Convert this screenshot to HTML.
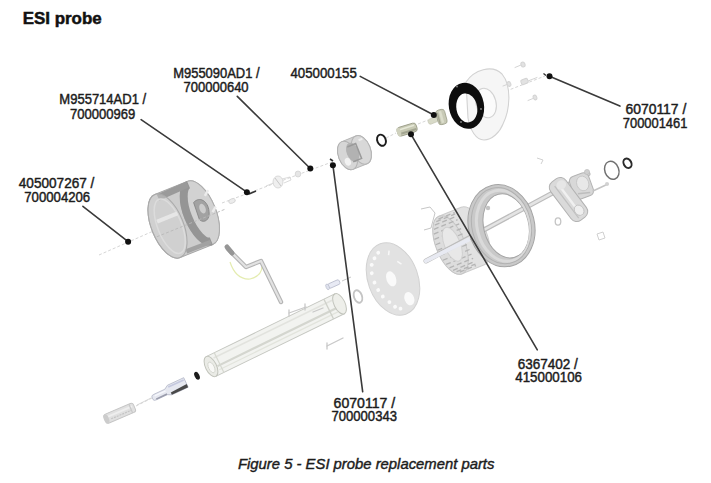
<!DOCTYPE html>
<html><head><meta charset="utf-8">
<style>
html,body{margin:0;padding:0;background:#fff;width:711px;height:483px;overflow:hidden}
svg{display:block;position:absolute;left:0;top:0}
text{font-family:"Liberation Sans",sans-serif;fill:#1c1c1c}
.l{font-size:14px;stroke:#1c1c1c;stroke-width:0.45px}
</style></head><body>
<svg width="711" height="483" viewBox="0 0 711 483">
<defs><filter id="soft" x="-5%" y="-5%" width="110%" height="110%"><feGaussianBlur stdDeviation="0.3"/></filter></defs>
<g id="parts" filter="url(#soft)">
<!-- dashed axes -->
<g stroke="#d0d0d0" stroke-width="0.9" stroke-dasharray="3 2" fill="none">
  <path d="M99,255 L167,225"/>
  <path d="M222,203 L332,162"/>
  <path d="M386,138 L396,133"/>
  <path d="M418,124 L428,120"/>
  <path d="M478,102 L545,76"/>
  <path d="M136,406 L152,398"/>
</g>
<!-- A housing -->
<g transform="translate(167.5,226) rotate(-22)">
  <path d="M0,-34 L35,-34 A16,34 0 0 1 35,34 L0,34 A16,34 0 0 1 0,-34 Z" fill="#cdcdcd" stroke="#a8a8a8" stroke-width="1"/>
  <ellipse cx="35" cy="0" rx="16" ry="34" fill="#d2d2d2" stroke="#adadad"/>
  <path d="M35,-30.5 A12.5,30.5 0 0 0 35,30.5" fill="none" stroke="#959595" stroke-width="8"/>
  <path d="M2,-30 L34,-31" fill="none" stroke="#9a9a9a" stroke-width="6.5"/>
  <path d="M8,30.5 L34,31" fill="none" stroke="#a2a2a2" stroke-width="4.5"/>
  <path d="M33,-12 C41,-16 47,-8 44,2 C42,10 35,12 32,6 Z" fill="#a2a2a2" stroke="#858585" stroke-width="0.8"/>
  <ellipse cx="39" cy="-3" rx="3" ry="5" fill="#cccccc"/>
  <path d="M46,-14 L51,-18 M47,4 L52,0" stroke="#ececec" stroke-width="2.5"/>
  <ellipse cx="0" cy="0" rx="16" ry="34" fill="#d4d4d4" fill-opacity="0.4" stroke="#aaaaaa"/>
  <ellipse cx="2" cy="1" rx="12" ry="29" fill="none" stroke="#dcdcdc" stroke-width="1.5"/>
  <path d="M-8,-8 L14,-8" stroke="#e6e6e6" stroke-width="4"/>
  <path d="M-14,6 L60,6" stroke="#b8b8b8" stroke-width="0.8" stroke-dasharray="3 2"/>
</g>
<!-- small faint parts upper axis -->
<g fill="#ececec" stroke="#d2d2d2" stroke-width="0.8">
  <ellipse cx="232" cy="201" rx="3.5" ry="2.2" transform="rotate(-22 232 201)"/>
  <path d="M266,186 L276,182 M282,179 L290,177 L291,180 L284,183" fill="none"/>
  <ellipse cx="278" cy="182" rx="5" ry="6" fill="#efefef"/>
  <path d="M275,178 L281,186" stroke="#c8c8c8" stroke-width="1"/>
  <ellipse cx="298" cy="174" rx="2.8" ry="3" fill="#e6e6e6"/>
</g>
<path d="M249,194 L256,191" stroke="#333" stroke-width="1.6"/>
<path d="M330,159 L333,161" stroke="#333" stroke-width="1.6"/>
<!-- E cylinder part -->
<g transform="translate(347.5,155.5) rotate(-22)">
  <path d="M0,-15 L15,-15 A9,15 0 0 1 15,15 L0,15 A9,15 0 0 1 0,-15 Z" fill="#d2d2d2" stroke="#b6b6b6"/>
  <ellipse cx="15" cy="0" rx="9" ry="15" fill="#d8d8d8" stroke="#b4b4b4"/>
  <ellipse cx="0" cy="0" rx="9" ry="15" fill="#d6d6d6" stroke="#b2b2b2"/>
  <ellipse cx="6" cy="-1" rx="6" ry="10" fill="#b2b2b2"/>
  <path d="M3,-8 L12,-8 L12,8 L3,8" fill="none" stroke="#9a9a9a" stroke-width="1.5"/>
  <ellipse cx="-2" cy="6" rx="3" ry="4" fill="#f2f2f2"/>
  <path d="M16,-10 L20,-10" stroke="#eeeeee" stroke-width="2"/>
</g>
<!-- F o-ring -->
<ellipse cx="381.5" cy="140.2" rx="4.2" ry="5.8" transform="rotate(-22 381.5 140.2)" fill="none" stroke="#1e1e1e" stroke-width="1.9"/>
<!-- G fitting -->
<g transform="translate(397.5,132.5) rotate(-17)">
  <rect x="0" y="-4.5" width="20" height="9" rx="3" fill="#c8cab4" stroke="#9ea08c" stroke-width="0.9"/>
  <path d="M2,2.2 L19,2.2" stroke="#a2a490" stroke-width="2.2"/>
  <path d="M3,-2 L18,-2" stroke="#e6e8d8" stroke-width="1.5"/>
  <ellipse cx="1.5" cy="0" rx="2" ry="4.5" fill="#cfd1bd"/>
</g>
<!-- H nut -->
<g transform="translate(433,120.5) rotate(-22)">
  <rect x="-5" y="-2.6" width="10" height="5.2" rx="2" fill="#d8dac8" stroke="#c0c2ae" stroke-width="0.6"/>
</g>
<g transform="translate(441.5,117) rotate(-15)">
  <rect x="-4.5" y="-7.5" width="9" height="15" rx="3" fill="#c8cab6" stroke="#a0a28e" stroke-width="0.8"/>
  <path d="M0,-6 L0,6" stroke="#dcdecc" stroke-width="2.5"/>
  <path d="M-3,-5 L-3,6" stroke="#a4a692" stroke-width="1.4"/>
</g>
<!-- J plate (whitish) -->
<g fill="#f6f6f6" stroke="#d2d2d2" stroke-width="1.1">
  <path d="M466,82 C474,70 492,64 502,74 C512,86 510,110 503,124 C500,132 492,140 484,140 C476,140 470,130 468,118 Z"/>
  <ellipse cx="486" cy="103" rx="10" ry="15" transform="rotate(-15 486 103)" fill="#fbfbfb"/>
</g>
<!-- I gasket -->
<path transform="rotate(-10 466.4 105.8)" fill-rule="evenodd" fill="#111" d="M448.8,105.8 A17.6,23.2 0 1 0 484,105.8 A17.6,23.2 0 1 0 448.8,105.8 Z M456,108 A10.4,14.6 0 1 1 476.8,108 A10.4,14.6 0 1 1 456,108 Z"/>
<g fill="#888"><circle cx="457" cy="86.5" r="0.9"/><circle cx="481" cy="109" r="0.9"/><circle cx="461" cy="122" r="0.9"/></g>
<!-- K screws -->
<g stroke="#d4d4d4" stroke-width="1" stroke-linecap="round" fill="#e2e2e2">
  <path d="M515,67.5 L521,65"/><ellipse cx="523" cy="64.5" rx="2" ry="2.6" transform="rotate(-22 523 64.5)"/>
  <path d="M528,81 L537,77.5"/><rect x="521" y="79" width="7" height="5" rx="1.5" transform="rotate(-22 524.5 81.5)"/>
  <path d="M503,86 L507,84.5"/><ellipse cx="509" cy="84" rx="1.8" ry="2.4" transform="rotate(-22 509 84)"/>
  <path d="M528,100.5 L533,98.5"/><ellipse cx="535" cy="97.5" rx="1.8" ry="2.4" transform="rotate(-22 535 97.5)"/>
</g>
<path d="M543.5,73.5 L546,75.5" stroke="#333" stroke-width="1.5"/>

<!-- L cap -->
<g transform="translate(105,419.5) rotate(-23)">
  <rect x="0" y="-4.8" width="32" height="9.6" rx="2.5" fill="#e0e0e0" stroke="#c6c6c6"/>
  <path d="M4,-1.5 L30,-1.5" stroke="#eeeeee" stroke-width="2"/>
  <path d="M6,1.8 L28,1.8" stroke="#c4c4c4" stroke-width="1.2" stroke-dasharray="2 1"/>
  <ellipse cx="1.5" cy="0" rx="2.5" ry="4.8" fill="#cccccc"/>
  <path d="M28,-4.8 L28,4.8" stroke="#c8c8c8" stroke-width="1.2"/>
</g>
<path d="M137,405 L151,398" stroke="#cfcfcf" stroke-width="0.8"/>
<!-- M nozzle -->
<g transform="translate(152.5,398.3) rotate(-25)">
  <path d="M0,-1.5 Q0,-3 3,-3 L15,-3 L19,-5.5 L37,-5.5 L37,5 L19,5 L15,3 L3,3 Q0,3 0,1.5 Z" fill="#e6e8f0" stroke="#b0b4c4" stroke-width="0.7"/>
  <path d="M19,2.5 L37,1.5 L37,5 L19,5 Z" fill="#4a4a4a"/>
  <path d="M3,1.5 L15,1.5 L15,3 L3,3 Z" fill="#9a9cac"/>
  <path d="M19,-3.5 L36,-3.5" stroke="#c4c8de" stroke-width="1.6"/>
  <path d="M3,-1.2 L15,-1.2" stroke="#f6f7fc" stroke-width="1.4"/>
</g>
<!-- N small o-ring -->
<ellipse cx="197" cy="375.7" rx="2.4" ry="4.2" transform="rotate(-25 197 375.7)" fill="#1a1a1a"/>
<!-- O long tube -->
<g transform="translate(211,366.5) rotate(-26)">
  <path d="M0,-11 L143,-11 L143,11 L0,11 Z" fill="#f2f3f0" stroke="#c6c8c2" stroke-width="1"/>
  <path d="M6,-6.5 L138,-6.5" stroke="#e2e3de" stroke-width="1.6"/>
  <path d="M6,2.5 L138,2.5" stroke="#d4d6cf" stroke-width="2.2"/>
  <path d="M6,6.5 L138,6.5" stroke="#e2e4dc" stroke-width="1.2"/>
  <ellipse cx="0" cy="0" rx="5.5" ry="11" fill="#eaebe6" stroke="#c2c4bc"/>
  <ellipse cx="0" cy="1" rx="2.8" ry="5.8" fill="#f8f8f6" stroke="#d0d2ca" stroke-width="0.8"/>
  <ellipse cx="143" cy="0" rx="5.5" ry="11" fill="#eeefea" stroke="#c2c4bc"/>
  <path d="M131,-11 L131,11" stroke="#cfd1ca" stroke-width="1.4"/>
  <path d="M9,-11 L9,11" stroke="#d6d8d0" stroke-width="1.2"/>
</g>
<!-- P bent tube -->
<path d="M230,262 Q236,280 250,279 Q262,276 262,266" fill="none" stroke="#e4ecb0" stroke-width="1.2"/>
<path d="M228,249 L246,267 L261,261 L281,302" fill="none" stroke="#b4b4b4" stroke-width="4.4" stroke-linejoin="round" stroke-linecap="round"/>
<path d="M228,249 L246,267 L261,261 L281,302" fill="none" stroke="#e2e2e2" stroke-width="2.2" stroke-linejoin="round" stroke-linecap="round"/>
<path d="M227,247 L232,253" stroke="#969696" stroke-width="5" stroke-linecap="round"/>
<!-- small screws near tube -->
<g stroke="#c8c8c8" stroke-width="1.3" fill="none" stroke-linecap="round">
  <path d="M289,313 L306,307"/><path d="M289,310 L289,316"/><path d="M305,304 L305,310"/>
  <path d="M327,346 L343,338"/><path d="M327,343 L327,349"/>
  <path d="M313,312 L323,308"/>
</g>
<g transform="translate(334,284) rotate(-24)"><rect x="-6" y="-2.4" width="12" height="4.8" rx="1.5" fill="#e8eaf4" stroke="#b8bccc" stroke-width="0.8"/><ellipse cx="-7" cy="0" rx="1.6" ry="3" fill="#dfe2ee" stroke="#b4b8c8" stroke-width="0.6"/></g>
<path d="M342,281 L351,277" stroke="#c8c8c8" stroke-width="1"/>
<ellipse cx="358" cy="296.5" rx="4" ry="6.5" transform="rotate(-20 358 296.5)" fill="none" stroke="#c4c4c4" stroke-width="1.8"/>
<!-- S disc -->
<g transform="translate(393,279) rotate(-20)">
  <ellipse cx="0" cy="0" rx="25" ry="37.5" fill="#e2e2e2" stroke="#d2d2d2"/>
  <g fill="#fafafa"><circle cx="-4.9" cy="-29.8" r="1.9"/><circle cx="-10.3" cy="-25.8" r="1.9"/><circle cx="-15.2" cy="-20.6" r="1.9"/><circle cx="-18" cy="-12.7" r="1.9"/><circle cx="-18.6" cy="-3" r="1.9"/><circle cx="-17.7" cy="5.3" r="1.9"/><circle cx="-15.6" cy="13" r="1.9"/><circle cx="-11.3" cy="20.5" r="1.9"/><circle cx="-7.6" cy="26.8" r="1.9"/><circle cx="-3.1" cy="30.4" r="1.9"/>
    <ellipse cx="-1.6" cy="-0.8" rx="4.8" ry="7.8"/>
    <ellipse cx="8.6" cy="24.1" rx="4.8" ry="6.8"/>
  </g>
  <path d="M4,-24 L6,-28 M10,-15 L13,-11" stroke="#f8f8f8" stroke-width="1.5"/>
</g>
<!-- T gear -->
<g transform="translate(450.5,245) rotate(-22)">
  <path d="M0,-31 L24,-31 A14,31 0 0 1 24,31 L0,31 A14,31 0 0 1 0,-31 Z" fill="#e2e2e2" stroke="#cdcdcd"/>
  <ellipse cx="0" cy="0" rx="14.5" ry="31" fill="#dddddd" stroke="#c6c6c6"/>
  <path d="M-1.5,-28.6 L16.0,-28.6 M-4.4,-27.0 L16.0,-27.0 M-7.1,-24.4 L16.0,-24.4 M-9.5,-20.8 L16.0,-20.8 M-11.4,-16.4 L16.0,-16.4 M-12.8,-11.3 L16.0,-11.3 M-13.7,-5.8 L16.0,-5.8 M-14.0,0.0 L16.0,0.0 M-13.7,5.8 L16.0,5.8 M-12.8,11.3 L16.0,11.3 M-11.4,16.4 L16.0,16.4 M-9.5,20.8 L16.0,20.8 M-7.1,24.4 L16.0,24.4 M-4.4,27.0 L16.0,27.0 M-1.5,28.6 L16.0,28.6" stroke="#b4b4b4" stroke-width="1.3" stroke-dasharray="5 3"/>
  <ellipse cx="2" cy="0" rx="8" ry="18" fill="#e8e8e8" stroke="#d0d0d0"/>
</g>
<path d="M421,209 L430,207 L435,213 L431,228 L424,230" fill="none" stroke="#c6c6c6" stroke-width="1"/>
<!-- U shaft -->
<path d="M426,261 L588,174" stroke="#bcbcbc" stroke-width="5" stroke-linecap="round"/>
<path d="M426,261 L588,174" stroke="#e4e4e4" stroke-width="2.6" stroke-linecap="round"/>
<path d="M426,261 L468,240" stroke="#e8eaf2" stroke-width="4" stroke-linecap="round"/>
<!-- V ring -->
<g transform="rotate(-14 501.5 225.7)">
  <path fill-rule="evenodd" fill="#c9c9c9" stroke="#a4a4a4" stroke-width="1"
    d="M468.5,225.7 A33,41.5 0 1 0 534.5,225.7 A33,41.5 0 1 0 468.5,225.7 Z M483.5,227 A22.5,32.5 0 1 1 528.5,227 A22.5,32.5 0 1 1 483.5,227 Z"/>
  <ellipse cx="503.5" cy="226.3" rx="26.5" ry="36" fill="none" stroke="#dadada" stroke-width="3"/>
  <ellipse cx="501.5" cy="225.7" rx="29.5" ry="38.5" fill="none" stroke="#b2b2b2" stroke-width="1"/>
</g>
<circle cx="488" cy="208" r="2.2" fill="#c4c4c4"/>
<!-- W block -->
<g transform="translate(581.5,186) rotate(-20)">
  <rect x="-10" y="-12" width="20" height="24" rx="5" fill="#d8d8d8" stroke="#b4b4b4"/>
  <ellipse cx="2" cy="-2" rx="6" ry="7.5" fill="#e8e8e8" stroke="#c4c4c4" stroke-width="0.8"/>
  <path d="M-6,6 L6,9" stroke="#bdbdbd" stroke-width="1.5"/>
</g>
<g transform="translate(568.5,199.5) rotate(53)">
  <rect x="-24" y="-9.5" width="48" height="19" rx="7" fill="#dadada" stroke="#b2b2b2"/>
  <path d="M-19,-1 L21,-1" stroke="#f0f0f0" stroke-width="2.4"/>
  <path d="M-19,3 L21,3" stroke="#c0c0c0" stroke-width="1.2"/>
  <ellipse cx="15" cy="-2" rx="5.5" ry="4.5" fill="#eeeeee" stroke="#bdbdbd" stroke-width="0.8"/>
  <ellipse cx="-16" cy="-3" rx="4.5" ry="5" fill="#e6e6e6"/>
</g>
<g stroke="#c4c4c4" stroke-width="1.5" fill="none" stroke-linecap="round">
  <path d="M593,191 L608,184"/>
</g>
<circle cx="587" cy="172" r="2.6" fill="#cfcfcf" stroke="#b8b8b8" stroke-width="0.6"/>
<circle cx="607" cy="184" r="2" fill="#d2d2d2"/>
<ellipse cx="558" cy="221.5" rx="2.8" ry="3.6" fill="none" stroke="#c4c4c4" stroke-width="1.3"/>
<path d="M597,234 L603,232 L605,238 L599,240 Z M537,158 L543,160 L541,164" fill="none" stroke="#d0d0d0" stroke-width="1"/>
<!-- X o-rings -->
<ellipse cx="611.8" cy="170.3" rx="7" ry="9.2" transform="rotate(-20 611.8 170.3)" fill="none" stroke="#707070" stroke-width="1.5"/>
<ellipse cx="627.5" cy="163.3" rx="3.8" ry="5" transform="rotate(-28 627.5 163.3)" fill="none" stroke="#2a2a2a" stroke-width="2"/>
</g>
<g id="leaders" stroke="#3a3a3a" stroke-width="1.6" fill="none" stroke-linecap="round">
  <line x1="82.9" y1="206.3" x2="128.1" y2="241.7"/>
  <line x1="141.1" y1="119.6" x2="246.9" y2="192.2"/>
  <line x1="237.3" y1="96.4" x2="310.3" y2="168.5"/>
  <line x1="360.2" y1="76.4" x2="433.8" y2="115"/>
  <line x1="549.5" y1="76.2" x2="619.9" y2="106.1"/>
  <line x1="411" y1="134.3" x2="537.3" y2="349.8"/>
  <line x1="332.9" y1="165.2" x2="362.7" y2="391.8"/>
</g>
<g id="dots" fill="#111">
  <circle cx="128.1" cy="241.7" r="3"/>
  <circle cx="246.9" cy="192.2" r="3"/>
  <circle cx="310.3" cy="168.5" r="3"/>
  <circle cx="433.8" cy="115" r="3"/>
  <circle cx="549.5" cy="76.2" r="3"/>
  <circle cx="411" cy="134.3" r="3"/>
  <circle cx="332.9" cy="165.2" r="3"/>
</g>
<g id="labels" class="l">
  <text x="18.8" y="187.7" textLength="75.6" lengthAdjust="spacingAndGlyphs">405007267 /</text>
  <text x="24.3" y="201.6" textLength="65.9" lengthAdjust="spacingAndGlyphs">700004206</text>
  <text x="59.3" y="104.4" textLength="86.9" lengthAdjust="spacingAndGlyphs">M955714AD1 /</text>
  <text x="69.9" y="118.8" textLength="65.3" lengthAdjust="spacingAndGlyphs">700000969</text>
  <text x="173.2" y="78.1" textLength="86.4" lengthAdjust="spacingAndGlyphs">M955090AD1 /</text>
  <text x="183.6" y="91.8" textLength="65" lengthAdjust="spacingAndGlyphs">700000640</text>
  <text x="290.5" y="77.8" textLength="66.3" lengthAdjust="spacingAndGlyphs">405000155</text>
  <text x="625.5" y="114" textLength="60.8" lengthAdjust="spacingAndGlyphs">6070117 /</text>
  <text x="622.8" y="127.5" textLength="64.6" lengthAdjust="spacingAndGlyphs">700001461</text>
  <text x="517.8" y="368.7" textLength="60" lengthAdjust="spacingAndGlyphs">6367402 /</text>
  <text x="515.3" y="382.2" textLength="66.7" lengthAdjust="spacingAndGlyphs">415000106</text>
  <text x="333.6" y="407.8" textLength="61.6" lengthAdjust="spacingAndGlyphs">6070117 /</text>
  <text x="331.6" y="421.3" textLength="65.3" lengthAdjust="spacingAndGlyphs">700000343</text>
</g>
<text x="22.7" y="23.6" textLength="79" lengthAdjust="spacingAndGlyphs" style="font-size:16.5px;font-weight:bold;fill:#111;stroke:#111;stroke-width:0.5px">ESI probe</text>
<text x="238" y="469.1" textLength="256.4" lengthAdjust="spacingAndGlyphs" style="font-size:14px;font-style:italic;fill:#1c1c1c;stroke:#1c1c1c;stroke-width:0.4px">Figure 5 - ESI probe replacement parts</text>
</svg>
</body></html>
